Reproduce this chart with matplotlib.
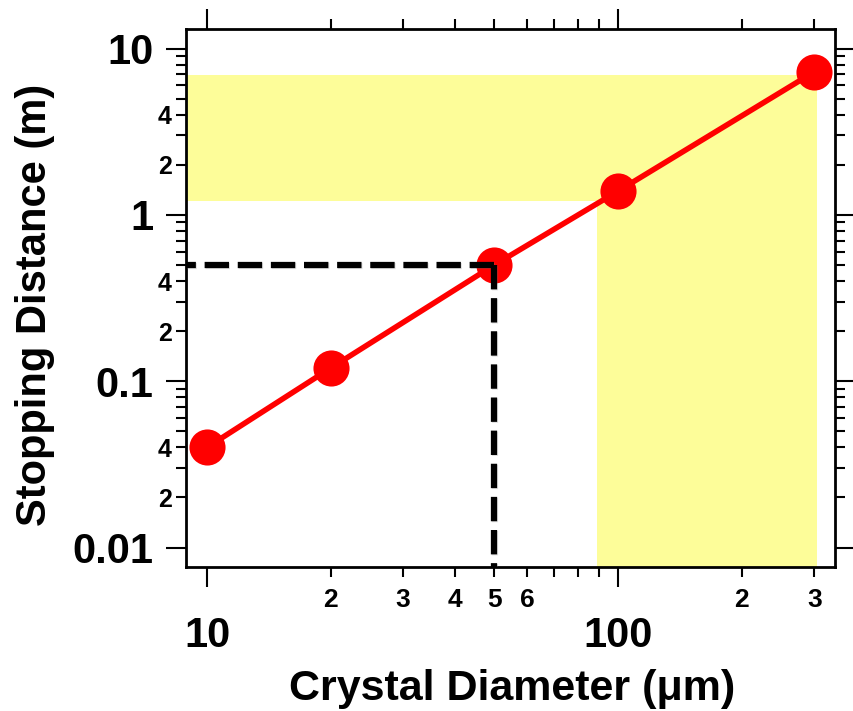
import matplotlib
matplotlib.use("Agg")
import matplotlib.pyplot as plt
from matplotlib.ticker import FixedLocator, FixedFormatter
from matplotlib.patches import Rectangle
import matplotlib.patheffects as pe

# ---- data ----
diameter_um = [10, 20, 50, 100, 300]
stopping_m = [0.040, 0.120, 0.50, 1.39, 7.24]

highlight_x = 50
highlight_y = 0.50

band_x = [89, 305]      # yellow x-range (vertical band) / right end of horizontal band
band_y = [1.21, 6.95]   # yellow y-range (horizontal band)

x_major = [10, 100]
x_major_labels = ["10", "100"]
x_minor = [20, 30, 40, 50, 60, 70, 80, 90, 200, 300]
x_minor_labels = ["2", "3", "4", "5", "6", "", "", "", "2", "3"]

y_major = [0.01, 0.1, 1, 10]
y_major_labels = ["0.01", "0.1", "1", "10"]
y_minor = [0.02, 0.03, 0.04, 0.05, 0.06, 0.07, 0.08, 0.09,
           0.2, 0.3, 0.4, 0.5, 0.6, 0.7, 0.8, 0.9,
           2, 3, 4, 5, 6, 7, 8, 9]
y_minor_labels = ["2", "", "4", "", "", "", "", "",
                  "2", "", "4", "", "", "", "", "",
                  "2", "", "4", "", "", "", "", ""]

xlim = (8.89, 337)
ylim = (0.00764, 13.1)

plt.rcParams['font.family'] = ['Liberation Sans', 'DejaVu Sans']
plt.rcParams['font.weight'] = 'bold'

fig = plt.figure(figsize=(8.54, 7.11), dpi=100)
ax = fig.add_axes([186/854, 1-567/711, (835-186)/854, (567-29)/711])
ax.set_xscale('log')
ax.set_yscale('log')
ax.set_xlim(*xlim)
ax.set_ylim(*ylim)

yellow = '#FDFD99'
# horizontal band
ax.add_patch(Rectangle((xlim[0], band_y[0]), band_x[1]-xlim[0], band_y[1]-band_y[0],
                       facecolor=yellow, edgecolor='none', zorder=1))
# vertical band
ax.add_patch(Rectangle((band_x[0], ylim[0]), band_x[1]-band_x[0], band_y[0]-ylim[0],
                       facecolor=yellow, edgecolor='none', zorder=1))

ax.plot(diameter_um, stopping_m, color='#FF0000', lw=4, marker='o', markersize=26,
        markeredgewidth=0, zorder=3)

shadow = [pe.SimpleLineShadow(offset=(0.5, -0.5), alpha=0.25, shadow_color='gray'), pe.Normal()]
ax.plot([highlight_x, xlim[0]], [highlight_y, highlight_y], color='black', lw=4.5,
        dashes=(3.9, 1.4), solid_capstyle='butt', dash_capstyle='butt', zorder=4,
        path_effects=shadow, clip_on=True)
ax.plot([highlight_x, highlight_x], [highlight_y, ylim[0]], color='black', lw=4.5,
        dashes=(3.9, 1.4), solid_capstyle='butt', dash_capstyle='butt', zorder=4,
        path_effects=shadow, clip_on=True)

for s in ax.spines.values():
    s.set_linewidth(2.0)

ax.xaxis.set_major_locator(FixedLocator(x_major))
ax.xaxis.set_major_formatter(FixedFormatter(x_major_labels))
ax.xaxis.set_minor_locator(FixedLocator(x_minor))
ax.xaxis.set_minor_formatter(FixedFormatter(x_minor_labels))
ax.yaxis.set_major_locator(FixedLocator(y_major))
ax.yaxis.set_major_formatter(FixedFormatter(y_major_labels))
ax.yaxis.set_minor_locator(FixedLocator(y_minor))
ax.yaxis.set_minor_formatter(FixedFormatter(y_minor_labels))

ax.tick_params(which='both', direction='out', top=True, right=True, width=1.5, color='black')
ax.tick_params(which='major', length=14.4)
ax.tick_params(which='minor', length=7.2)
ax.tick_params(axis='x', which='major', labelsize=30, pad=21)
ax.tick_params(axis='x', which='minor', labelsize=19, pad=8)
ax.tick_params(axis='y', which='major', labelsize=30, pad=9)
ax.tick_params(axis='y', which='minor', labelsize=18, pad=3)
for lab in ax.get_xticklabels(which='both') + ax.get_yticklabels(which='both'):
    lab.set_fontweight('bold')

fig.text(512/854, 1-700/711, "Crystal Diameter (\u03bcm)", ha='center', va='baseline',
         fontsize=31, fontweight='bold')
fig.text(35/854, 1-305/711, "Stopping Distance (m)", ha='center', va='center',
         rotation=90, fontsize=30, fontweight='bold')

fig.savefig('out.png', dpi=100)
